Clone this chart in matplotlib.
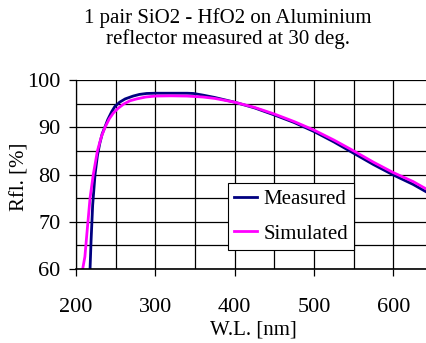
import numpy as np
import matplotlib.pyplot as plt

plt.rcParams['font.family'] = ['Liberation Serif', 'DejaVu Serif']

# Measured reflectance
wl_meas = [217.7, 219, 221, 224, 227, 230, 233, 236.6, 240, 245, 249, 255, 262, 272, 280, 289,
           300, 320, 340, 348, 360, 375, 400, 425, 450, 475, 500, 525, 550, 575, 600, 625, 645]
rfl_meas = [60.0, 66.0, 73.5, 80.0, 84.0, 86.6, 88.6, 90.1, 91.6, 93.3, 94.4, 95.3, 96.0, 96.6, 96.95, 97.15,
            97.2, 97.2, 97.2, 97.15, 96.8, 96.3, 95.3, 94.1, 92.6, 91.0, 89.1, 86.9, 84.5, 82.1, 79.9, 77.9, 76.0]

# Simulated reflectance
wl_sim = [208.4, 211.2, 214, 217.7, 221.8, 227, 232, 236.6, 242, 247, 253, 260, 268, 276.5, 288,
          300, 320, 340, 360, 375, 400, 425, 450, 475, 500, 525, 550, 575, 600, 625, 645]
rfl_sim = [60.0, 62.6, 68.0, 75.0, 80.0, 85.0, 88.0, 90.0, 91.8, 93.0, 94.0, 94.9, 95.6, 96.0, 96.4,
           96.6, 96.65, 96.6, 96.4, 96.1, 95.3, 94.2, 92.8, 91.2, 89.4, 87.3, 85.0, 82.6, 80.4, 78.5, 76.6]

fig = plt.figure(figsize=(4.26, 3.43), dpi=100)
ax = fig.add_axes([76 / 426, 74 / 343, 357 / 426, 189 / 343])

ax.plot(wl_meas, rfl_meas, color='#000080', linewidth=2, label='Measured')
ax.plot(wl_sim, rfl_sim, color='#ff00ff', linewidth=2, label='Simulated')

ax.set_xlim(200, 650)
ax.set_ylim(60, 100)
ax.set_xticks([200, 300, 400, 500, 600])
ax.set_yticks([60, 70, 80, 90, 100])
ax.set_xticks(np.arange(250, 650, 100), minor=True)
ax.set_yticks(np.arange(65, 100, 10), minor=True)
ax.grid(True, which='both', color='black', linewidth=0.9)
ax.set_axisbelow(True)
ax.tick_params(which='major', direction='out', length=5, width=0.9, labelsize=16)
ax.tick_params(which='minor', length=0)
ax.tick_params(axis='x', pad=16)
ax.tick_params(axis='y', pad=6)
for s in ['top', 'right']:
    ax.spines[s].set_visible(False)
ax.spines['left'].set_linewidth(0.9)
ax.spines['bottom'].set_linewidth(1.2)

leg = ax.legend(loc='lower left', bbox_to_anchor=((228 - 76) / 357, (269 - 250) / 189),
                fontsize=15, frameon=True, fancybox=False, edgecolor='black',
                framealpha=1, handlelength=1.1, handletextpad=0.3, borderpad=0.3,
                labelspacing=0.72, borderaxespad=0)
leg.get_frame().set_linewidth(0.8)

fig.text(228 / 426, 1 - 18 / 343, '1 pair SiO2 - HfO2 on Aluminium', ha='center', va='center', fontsize=15)
fig.text(228 / 426, 1 - 39 / 343, 'reflector measured at 30 deg.', ha='center', va='center', fontsize=15)
fig.text(20 / 426, 1 - 177 / 343, 'Rfl. [%]', rotation=90, ha='center', va='center', fontsize=15)
fig.text(253 / 426, 1 - 330 / 343, 'W.L. [nm]', ha='center', va='center', fontsize=15)

fig.savefig('out.png', dpi=100)
